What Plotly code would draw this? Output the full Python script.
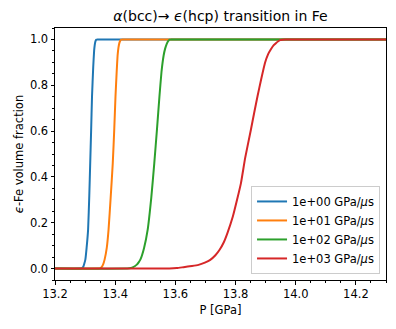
import plotly.graph_objects as go

# pressure [GPa] and epsilon-Fe fraction
p_1e0 = [13.2, 13.285, 13.290, 13.294, 13.297, 13.301, 13.305, 13.310, 13.314, 13.317, 13.320, 13.323, 13.327, 13.330, 13.332, 13.334, 13.336, 13.338, 13.341, 14.3]
f_1e0 = [0, 0, 0.002, 0.008, 0.02, 0.04, 0.09, 0.17, 0.32, 0.46, 0.6, 0.75, 0.88, 0.95, 0.975, 0.99, 0.997, 0.999, 1, 1]

p_1e1 = [13.2, 13.345, 13.351, 13.355, 13.360, 13.365, 13.372, 13.378, 13.385, 13.392, 13.397, 13.401, 13.405, 13.408, 13.411, 13.414, 13.417, 13.420, 13.424, 14.3]
f_1e1 = [0, 0, 0.002, 0.006, 0.018, 0.04, 0.09, 0.17, 0.31, 0.46, 0.61, 0.75, 0.86, 0.93, 0.965, 0.985, 0.995, 0.999, 1, 1]

p_1e2 = [13.2, 13.440, 13.452, 13.460, 13.466, 13.472, 13.478, 13.484, 13.496, 13.508, 13.520, 13.530, 13.539, 13.547, 13.554, 13.561, 13.566, 13.571, 13.576, 13.581, 13.587, 14.3]
f_1e2 = [0, 0, 0.002, 0.006, 0.011, 0.017, 0.027, 0.04, 0.09, 0.17, 0.31, 0.46, 0.61, 0.75, 0.86, 0.93, 0.96, 0.98, 0.993, 0.999, 1, 1]

p_1e3 = [13.2, 13.580, 13.605, 13.627, 13.655, 13.677, 13.698, 13.716, 13.733, 13.747, 13.761, 13.773, 13.791, 13.805, 13.818, 13.832, 13.851, 13.862, 13.873, 13.885, 13.898, 13.908, 13.917, 13.927, 13.935, 13.942, 13.948, 13.956, 13.966, 14.3]
f_1e3 = [0, 0, 0.002, 0.006, 0.011, 0.016, 0.026, 0.038, 0.058, 0.082, 0.115, 0.155, 0.227, 0.3, 0.373, 0.483, 0.606, 0.68, 0.752, 0.825, 0.898, 0.935, 0.956, 0.975, 0.985, 0.992, 0.997, 0.999, 1, 1]

rates = ["1e+00", "1e+01", "1e+02", "1e+03"]
colors = ["#1f77b4", "#ff7f0e", "#2ca02c", "#d62728"]

font = "DejaVu Sans, sans-serif"

fig = go.Figure()
for p, f, r, c in zip([p_1e0, p_1e1, p_1e2, p_1e3], [f_1e0, f_1e1, f_1e2, f_1e3], rates, colors):
    fig.add_trace(go.Scatter(
        x=p, y=f, mode="lines", name=f"{r} GPa/<i>μ</i>s",
        line=dict(color=c, width=2, shape="spline", smoothing=0.4),
    ))

axis_common = dict(
    showgrid=False, zeroline=False, showline=True, linecolor="black", linewidth=1,
    mirror=True, ticks="outside", ticklen=3.5, tickwidth=1, tickcolor="black",
    tickfont=dict(size=11.5, color="black"), automargin=False,
)
fig.update_xaxes(
    **axis_common, range=[13.2, 14.3], dtick=0.2, tick0=13.2, tickformat=".1f",
    minor=dict(ticks="outside", dtick=0.05, ticklen=2, tickcolor="black"),
    title=dict(text="P [GPa]", font=dict(size=11.5, color="black"), standoff=5),
)
fig.update_yaxes(
    **axis_common, range=[-0.05, 1.05], dtick=0.2, tickformat=".1f",
    minor=dict(ticks="outside", dtick=0.05, ticklen=2, tickcolor="black"),
    title=dict(text="<i>ϵ</i>-Fe volume fraction", font=dict(size=11.5, color="black"), standoff=3),
)

# the page body adds an 8px margin, so the figure is sized to fit inside it
fig.update_layout(
    width=380, height=313,
    margin=dict(l=46.5, r=2, t=20, b=41),
    paper_bgcolor="white", plot_bgcolor="white",
    font=dict(family=font, size=11.5, color="black"),
    title=dict(text="<i>α</i>(bcc)→ <i>ϵ</i>(hcp) transition in Fe", x=0.5, xref="paper",
               xanchor="center", y=0.973, yanchor="middle", font=dict(size=14), automargin=False),
    legend=dict(x=0.982, y=0.024, xanchor="right", yanchor="bottom", itemwidth=30,
                bgcolor="rgba(255,255,255,0.8)", bordercolor="#cccccc", borderwidth=1,
                font=dict(size=11.5), tracegroupgap=0),
)

fig.write_html("out.html")
